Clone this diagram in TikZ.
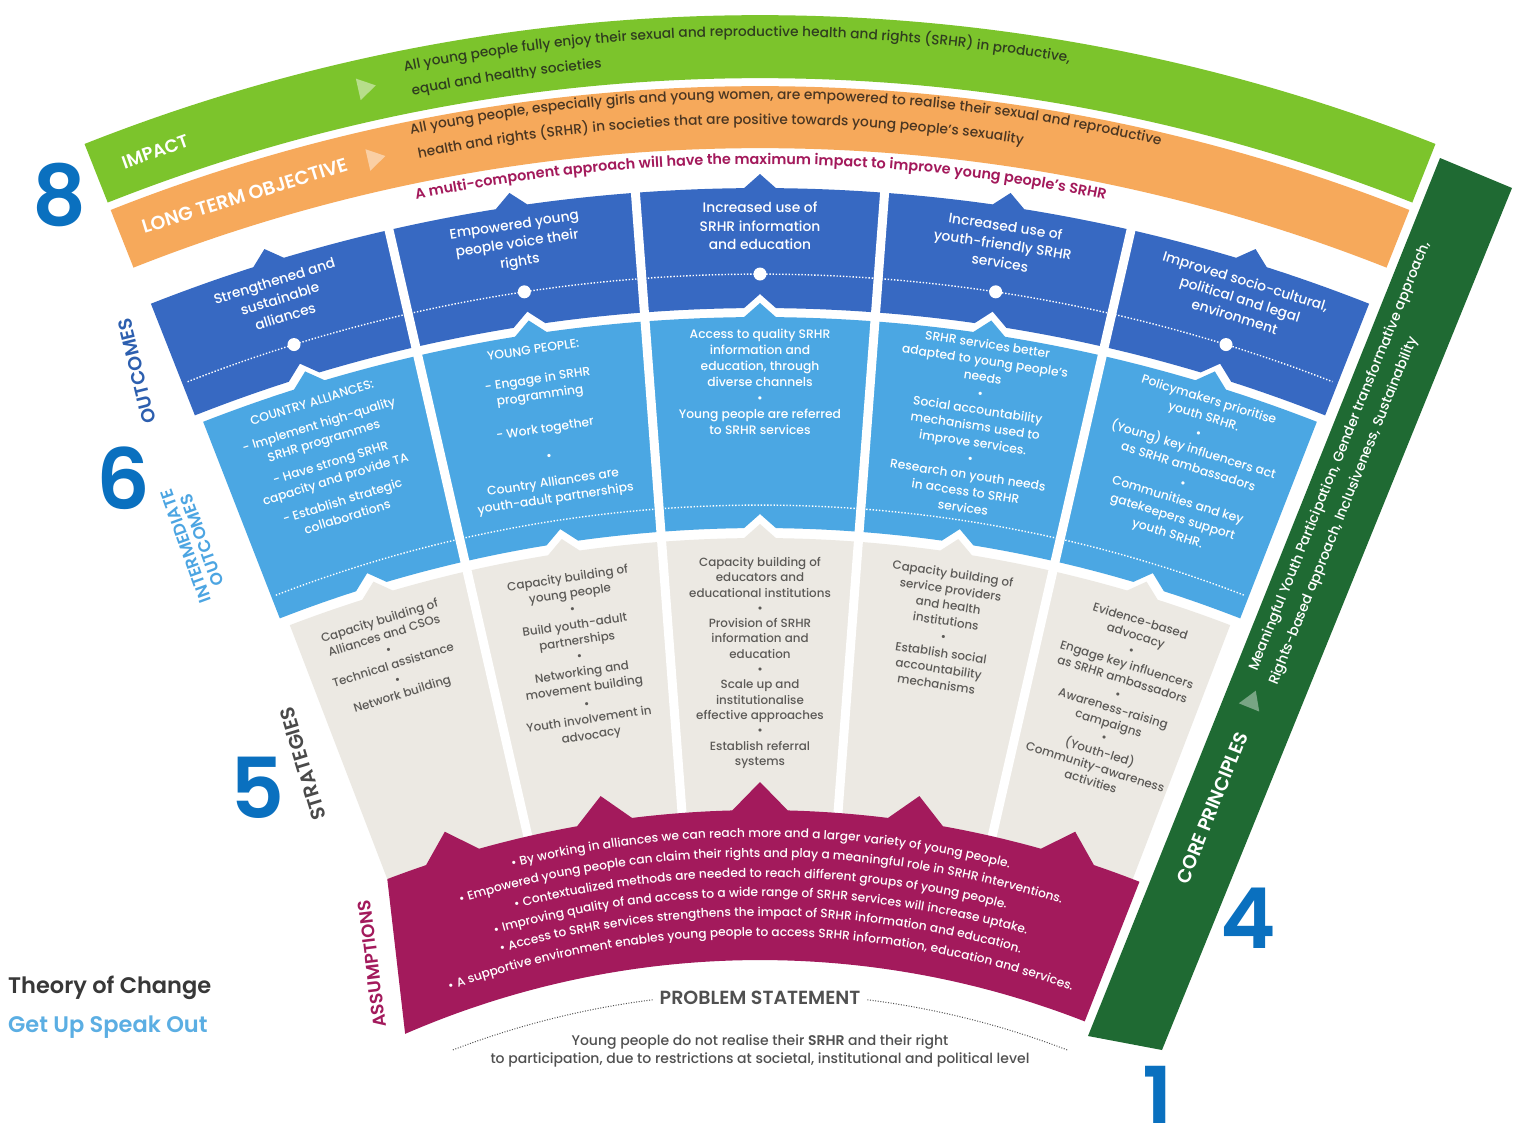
\documentclass[tikz,border=0pt]{standalone}
\usepackage{fontspec}
\setmainfont{Poppins}
\IfFontExistsTF{Poppins Medium}{\newfontfamily\popm{Poppins Medium}}{\newfontfamily\popm{Poppins}}
\IfFontExistsTF{Poppins SemiBold}{\newfontfamily\pops{Poppins SemiBold}\newcommand\semib{\pops}}{\newfontfamily\pops{Poppins}\newcommand\semib{\pops\bfseries}}
\usetikzlibrary{decorations.text}
\definecolor{gband}{HTML}{7CC42C}
\definecolor{oband}{HTML}{F6A95B}
\definecolor{outc}{HTML}{3769C2}
\definecolor{inter}{HTML}{4BA7E3}
\definecolor{strat}{HTML}{ECE9E3}
\definecolor{assum}{HTML}{A31A5C}
\definecolor{core}{HTML}{1F6A33}
\definecolor{numb}{HTML}{0A70BF}
\definecolor{imptxt}{HTML}{2F3D1F}
\definecolor{ltotxt}{HTML}{4A3622}
\definecolor{strtxt}{HTML}{5C5A57}
\definecolor{mctxt}{HTML}{A3195B}
\definecolor{outlbl}{HTML}{2D5FAF}
\definecolor{intlbl}{HTML}{4CA5E2}
\definecolor{strlbl}{HTML}{4A4A4A}
\definecolor{probtxt}{HTML}{505050}
\definecolor{gusotxt}{HTML}{5BAEE3}
% box with a peak on the outer side and a notch on the inner side
\newcommand\pbox[7]{%
\pgfmathsetmacro\tc{(#1+#2)/2}%
\pgfmathsetmacro\dO{16/#4*57.29578}%
\pgfmathsetmacro\dI{16/#3*57.29578}%
\pgfmathsetmacro\tA{\tc-\dO}\pgfmathsetmacro\tB{\tc+\dO}%
\pgfmathsetmacro\tC{\tc-\dI}\pgfmathsetmacro\tD{\tc+\dI}%
\pgfmathsetmacro\rP{#4+#5}\pgfmathsetmacro\rN{#3+#6}%
\fill[#7] (#1:#4) arc[start angle=#1,end angle=\tA,radius=#4] -- (\tc:\rP) -- (\tB:#4) arc[start angle=\tB,end angle=#2,radius=#4] -- (#2:#3) arc[start angle=#2,end angle=\tD,radius=#3] -- (\tc:\rN) -- (\tC:#3) arc[start angle=\tC,end angle=#1,radius=#3] -- cycle;}
\begin{document}
\begin{tikzpicture}[x=1pt,y=-1pt,
 otext/.style={text=white,font=\popm\fontsize{13.8}{18.5}\selectfont,align=center,inner sep=0pt},
 itext/.style={text=white,align=center,inner sep=0pt,anchor=north},
 stext/.style={text=strtxt,font=\popm\fontsize{11.9}{15.3}\selectfont,align=center,inner sep=0pt,anchor=north},
 lbl/.style={font=\semib\fontsize{18}{20}\selectfont,inner sep=0pt,align=center},
 bignum/.style={text=numb,font=\semib\fontsize{84}{84}\selectfont,inner sep=0pt},
 gapline/.style={white,line width=9pt},
 dotline/.style={white,line width=1.4pt,dash pattern=on 1.4pt off 1.8pt},
 probdots/.style={probtxt,line width=1pt,dash pattern=on 1pt off 1.6pt},
]
\useasboundingbox (0,0) rectangle (1517,1122);
\fill[white] (0,0) rectangle (1517,1122);

% core principles bar
\fill[core] (1440,158) -- (1512,188) -- (1162,1050) -- (1088,1036) -- cycle;
\fill[white,opacity=0.4,shift={(1252,700)},rotate=68] (-8,-11) -- (10,0) -- (-8,11) -- cycle;
\node[lbl,white,rotate=68,font=\semib\fontsize{19}{21}\selectfont] (corelbl) at (1212,808) {CORE PRINCIPLES};
\node[text=white,font=\popm\fontsize{14}{16}\selectfont,rotate=68,anchor=base west,inner sep=0pt] (core1) at (1257,672) {Meaningful Youth Participation, Gender transformative approach,};
\node[text=white,font=\popm\fontsize{14}{16}\selectfont,rotate=68,anchor=base west,inner sep=0pt] (core2) at (1277,686) {Rights-based approach, Inclusiveness, Sustainability};

\begin{scope}[shift={(760,1850)}]
% top bands
\fill[gband] (-111.6:1835) arc[start angle=-111.6,end angle=-68.4,radius=1835] -- (-68.4:1772) arc[start angle=-68.4,end angle=-111.6,radius=1772] -- cycle;
\fill[oband] (-111.6:1764) arc[start angle=-111.6,end angle=-68.4,radius=1764] -- (-68.4:1702) arc[start angle=-68.4,end angle=-111.6,radius=1702] -- cycle;
\fill[white,opacity=0.45,shift={(-102.6:1806)},rotate=12.6] (-8,-11) -- (10,0) -- (-8,11) -- cycle;
\fill[white,opacity=0.45,shift={(-102.8:1735)},rotate=12.8] (-8,-11) -- (10,0) -- (-8,11) -- cycle;
\node[lbl,white,rotate=19.6] (impact) at (-109.6:1803) {IMPACT};
\node[lbl,white,rotate=17.3,font=\semib\fontsize{19}{21}\selectfont] (lto) at (-107.3:1733) {LONG TERM OBJECTIVE};

\path[decorate,decoration={text along path,text align=left,text color=imptxt,
 text={|\popm\fontsize{13.7}{15}\selectfont|All young people fully enjoy their sexual and reproductive health and rights (SRHR) in productive,}}]
 (-101.3:1814) arc[start angle=-101.3,end angle=-55,radius=1814];
\path[decorate,decoration={text along path,text align=left,text color=imptxt,
 text={|\popm\fontsize{13.7}{15}\selectfont|equal and healthy societies}}]
 (-101.2:1789) arc[start angle=-101.2,end angle=-55,radius=1789];
\path[decorate,decoration={text along path,text align=left,text color=ltotxt,
 text={|\popm\fontsize{13.8}{15}\selectfont|All young people, especially girls and young women, are empowered to realise their sexual and reproductive}}]
 (-101.5:1751) arc[start angle=-101.5,end angle=-55,radius=1751];
\path[decorate,decoration={text along path,text align=left,text color=ltotxt,
 text={|\popm\fontsize{13.8}{15}\selectfont|health and rights (SRHR) in societies that are positive towards young people’s sexuality}}]
 (-101.4:1726) arc[start angle=-101.4,end angle=-55,radius=1726];
\path[decorate,decoration={text along path,text align=center,text color=mctxt,
 text={|\semib\fontsize{14.4}{15}\selectfont|A multi-component approach will have the maximum impact to improve young people’s SRHR}}]
 (-115:1686) arc[start angle=-115,end angle=-65,radius=1686];

% rows of boxes
\foreach \a/\b in {-111.5/-102.9,-102.9/-94.3,-94.3/-85.7,-85.7/-77.1,-77.1/-68.5}{\pbox{\a}{\b}{1542}{1662}{14}{14}{outc}}
\foreach \a/\b in {-111.3/-102.9,-102.9/-94.3,-94.3/-85.7,-85.7/-77.1,-77.1/-68.7}{\pbox{\a}{\b}{1322}{1533}{14}{14}{inter}}
\foreach \a/\b in {-111.0/-102.9,-102.9/-94.3,-94.3/-85.7,-85.7/-77.1,-77.1/-69.0}{\pbox{\a}{\b}{1000}{1312}{14}{0}{strat}}
\foreach \t in {-102.9,-94.3,-85.7,-77.1}{\draw[gapline] (\t:995) -- (\t:1667);}
\draw[dotline] (-111.3:1576) arc[start angle=-111.3,end angle=-68.7,radius=1576];
\foreach \t in {-107.2,-98.6,-90,-81.4,-72.8}{\fill[white] (\t:1576) circle[radius=6.5];}
\draw[dotline] (-111.1:1345) arc[start angle=-111.1,end angle=-68.9,radius=1345];

% assumptions band
\fill[assum] (-111:1040) arc[start angle=-111,end angle=-108.73,radius=1040] -- (-107.2:1066) -- (-105.67:1040)
 arc[start angle=-105.67,end angle=-100.13,radius=1040] -- (-98.6:1066) -- (-97.07:1040)
 arc[start angle=-97.07,end angle=-91.53,radius=1040] -- (-90:1068) -- (-88.47:1040)
 arc[start angle=-88.47,end angle=-82.93,radius=1040] -- (-81.4:1066) -- (-79.87:1040)
 arc[start angle=-79.87,end angle=-74.33,radius=1040] -- (-72.8:1066) -- (-71.27:1040)
 arc[start angle=-71.27,end angle=-68.6,radius=1040] -- (-68.6:890)
 arc[start angle=-68.6,end angle=-113.5,radius=890] -- cycle;
\foreach \r/\txt in {1013/{• By working in alliances we can reach more and a larger variety of young people.},
 993/{• Empowered young people can claim their rights and play a meaningful role in SRHR interventions.},
 973/{• Contextualized methods are needed to reach different groups of young people.},
 953.5/{• Improving quality of and access to a wide range of SRHR services will increase uptake.},
 934/{• Access to SRHR services strengthens the impact of SRHR information and education.},
 914/{• A supportive environment enables young people to access SRHR information, education and services.}}{
 \path[decorate,decoration={text along path,text align=center,text color=white,
 text/.expanded={|\noexpand\popm\noexpand\fontsize{12.2}{14}\noexpand\selectfont|\txt}}]
 (-125:\r) arc[start angle=-125,end angle=-55,radius=\r];}

% problem statement arcs
\draw[probdots] (-111:857) arc[start angle=-111,end angle=-97.2,radius=857];
\draw[probdots] (-82.8:857) arc[start angle=-82.8,end angle=-69,radius=857];

% outcome texts
\node[otext,rotate=17.2] (o1) at (-107.2:1624) {Strengthened and\\sustainable\\alliances};
\node[otext,rotate=8.6] (o2) at (-98.6:1624) {Empowered young\\people voice their\\rights};
\node[otext,rotate=0] (o3) at (-90:1624) {Increased use of\\SRHR information\\and education};
\node[otext,rotate=-8.6] (o4) at (-81.4:1624) {Increased use of\\youth-friendly SRHR\\services};
\node[otext,rotate=-17.2] (o5) at (-72.8:1624) {Improved socio-cultural,\\political and legal\\environment};

% intermediate texts
\node[itext,rotate=17.2,font=\popm\fontsize{12.3}{17}\selectfont] (i1) at (-107.2:1520) {COUNTRY ALLIANCES:\\[6pt]- Implement high-quality\\SRHR programmes\\[6pt]- Have strong SRHR\\capacity and provide TA\\[6pt]- Establish strategic\\collaborations};
\node[itext,rotate=8.6,font=\popm\fontsize{12.3}{16.5}\selectfont] (i2) at (-98.6:1522) {YOUNG PEOPLE:\\[13pt]- Engage in SRHR\\programming\\[17pt]- Work together\\[11pt]•\\[10pt]Country Alliances are\\youth-adult partnerships};
\node[itext,rotate=0,font=\popm\fontsize{12.3}{16}\selectfont] (i3) at (-90:1521) {Access to quality SRHR\\information and\\education, through\\diverse channels\\•\\Young people are referred\\to SRHR services};
\node[itext,rotate=-8.6,font=\popm\fontsize{12.3}{16.5}\selectfont] (i4) at (-81.4:1528) {SRHR services better\\adapted to young people’s\\needs\\•\\Social accountability\\mechanisms used to\\improve services.\\•\\Research on youth needs\\in access to SRHR\\services};
\node[itext,rotate=-17.2,font=\popm\fontsize{12.3}{17.5}\selectfont] (i5) at (-72.8:1524) {Policymakers prioritise\\youth SRHR.\\•\\(Young) key influencers act\\as SRHR ambassadors\\•\\Communities and key\\gatekeepers support\\youth SRHR.};

% strategy texts
\node[stext,rotate=17.2] (s1) at (-107.2:1292) {Capacity building of\\Alliances and CSOs\\•\\Technical assistance\\•\\Network building};
\node[stext,rotate=8.6,font=\popm\fontsize{11.9}{15.9}\selectfont] (s2) at (-98.6:1292) {Capacity building of\\young people\\•\\Build youth-adult\\partnerships\\•\\Networking and\\movement building\\•\\Youth involvement in\\advocacy};
\node[stext,rotate=0] (s3) at (-90:1293) {Capacity building of\\educators and\\educational institutions\\•\\Provision of SRHR\\information and\\education\\•\\Scale up and\\institutionalise\\effective approaches\\•\\Establish referral\\systems};
\node[stext,rotate=-8.6,font=\popm\fontsize{11.9}{16}\selectfont] (s4) at (-81.4:1296) {Capacity building of\\service providers\\and health\\institutions\\•\\Establish social\\accountability\\mechanisms};
\node[stext,rotate=-17.2] (s5) at (-72.8:1292) {Evidence-based\\advocacy\\•\\Engage key influencers\\as SRHR ambassadors\\•\\Awareness-raising\\campaigns\\•\\(Youth-led)\\Community-awareness\\activities};
\end{scope}

% problem statement
\node[font=\semib\fontsize{19}{21}\selectfont,text=probtxt,inner sep=0pt] (prob) at (760,998) {PROBLEM STATEMENT};
\node[font=\popm\fontsize{14}{18}\selectfont,text=probtxt,align=center,inner sep=0pt] (probtext) at (760,1051) {Young people do not realise their {\semib SRHR} and their right\\to participation, due to restrictions at societal, institutional and political level};

% side labels
\node[lbl,text=outlbl,rotate=104,font=\semib\fontsize{19}{21}\selectfont] (outl) at (137,371) {OUTCOMES};
\node[lbl,text=intlbl,rotate=110,font=\semib\fontsize{17}{17.5}\selectfont] (intl) at (194,543) {INTERMEDIATE\\OUTCOMES};
\node[lbl,text=strlbl,rotate=107,font=\semib\fontsize{20}{22}\selectfont] (strl) at (303,764) {STRATEGIES};
\node[lbl,text=assum,rotate=97,font=\semib\fontsize{18}{20}\selectfont] (asl) at (372,964) {ASSUMPTIONS};

% big numbers
\node[bignum] (n8) at (60,195) {8};
\node[bignum] (n6) at (123,478) {6};
\node[bignum] (n5) at (258,788) {5};
\node[bignum] (n4) at (1248,918) {4};
\node[bignum] (n1) at (1158,1097) {1};

% title
\node[anchor=west,inner sep=0pt,font=\semib\fontsize{22.5}{24}\selectfont,text=black!78] (toc) at (8,988) {Theory of Change};
\node[anchor=west,inner sep=0pt,font=\semib\fontsize{22.5}{24}\selectfont,text=gusotxt] (guso) at (8,1027) {Get Up Speak Out};
\end{tikzpicture}
\end{document}
